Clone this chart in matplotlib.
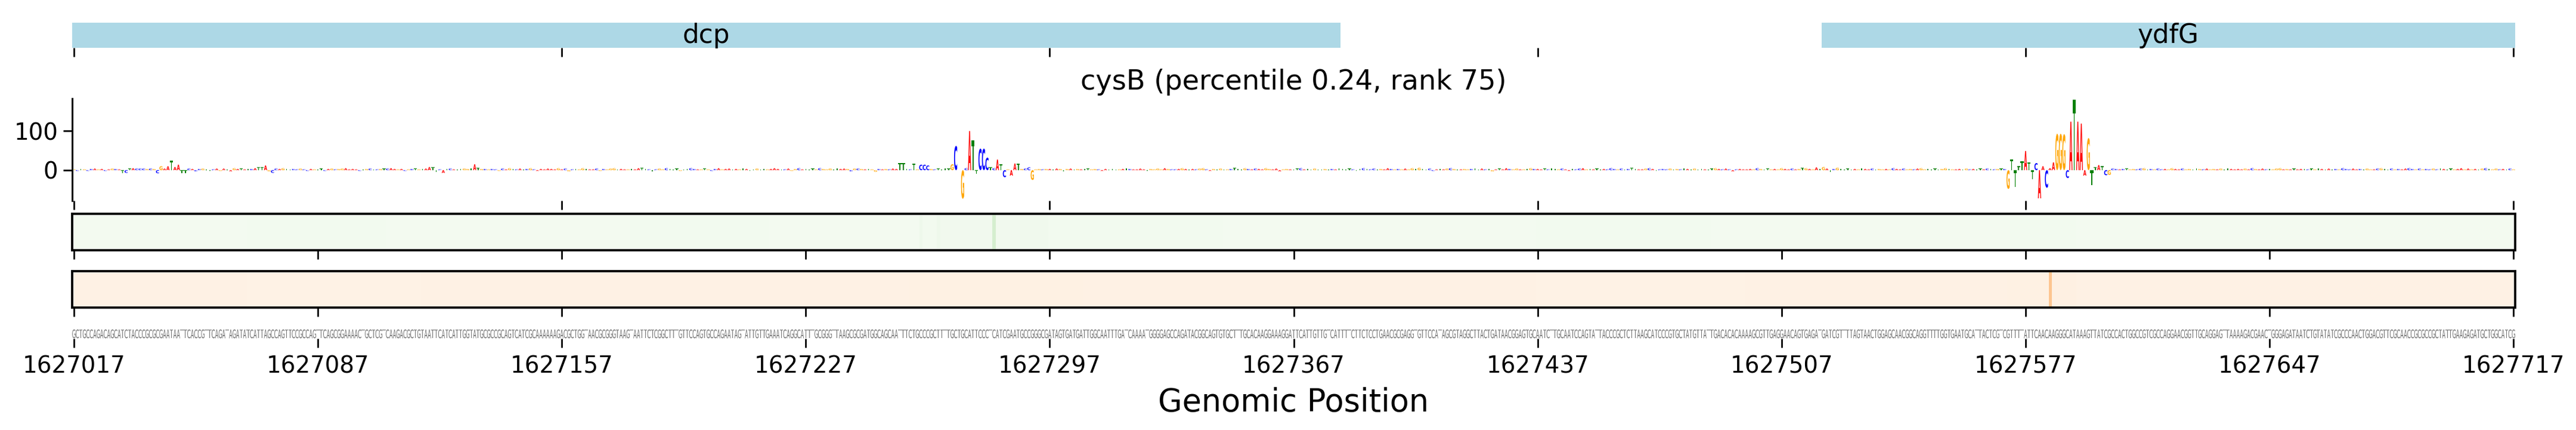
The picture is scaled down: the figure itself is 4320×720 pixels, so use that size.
import matplotlib
matplotlib.use('Agg')
import matplotlib.pyplot as plt
import numpy as np
from matplotlib.textpath import TextPath
from matplotlib.patches import PathPatch
from matplotlib.transforms import Affine2D
from matplotlib.font_manager import FontProperties

start = 1627017
tf_name = 'cysB'
percentile = 0.24
rank = 75

seq = ("GCTGCCAGACAGCATCTACCCGCGCGAATAATTCACCGTTCAGATAGATATCATTAGCCAGTTCCGCCAGTTCAGCGGAAAACTGCTCGTCAAGACGCTGTAATTCATCATTGGTATG"
       "CGCCGCAGTCATCGCAAAAAAGACGCTGGTAACGCGGGTAAGTAATTCTCGGCTTTGTTCCAGTGCCAGAATAGTATTGTTGAAATCAGGCATTTGCGGGTTAAGCGCGATGGCAGCA"
       "ATTTCTGCCCGCTTTTGCTGCATTCCCTCATCGAATGCCGGGCGATAGTGATGATTGGCAATTTGATCAAAATGGGGAGCCAGATACGGCAGTGTGCTTTGCACAAGGAAAGGATTCA"
       "TTGTTGTCATTTTCTTCTCCTGAACGCGAGGTGTTCCATAGCGTAGGCTTACTGATAACGGAGTGCAATCTTGCAATCCAGTATTACCCGCTCTTAAGCATCCCGTGCTATGTTATTG"
       "ACACACAAAAGCGTTGAGGAACAGTGAGATGATCGTTTTAGTAACTGGAGCAACGGCAGGTTTTGGTGAATGCATTACTCGTCGTTTTATTCAACAAGGGCATAAAGTTATCGCCACTG"
       "GCCGTCGCCAGGAACGGTTGCAGGAGTTAAAAGACGAACTGGGAGATAATCTGTATATCGCCCAACTGGACGTTCGCAACCGCGCCGCTATTGAAGAGATGCTGGCATCG")

# contribution score per position (one row = 20 positions)
scores = [
    2, -2, 3, 2, -2, 3, 4, 2, 3, -2, 2, 4, 3, 2, -8, -7, 4, 5, 4, 4,
    4, 3, 4, 3, -8, 10, 4, 10, 25, 8, 14, -7, -7, 4, 3, -3, 3, 4, 2, -2,
    2, 4, -2, 4, 2, -3, 5, 3, 4, 2, 3, 3, 5, 7, 7, 12, -3, -7, 4, 3,
    5, 3, 2, 3, 2, 4, 2, -2, 3, 2, 2, 4, -2, 3, 4, 2, 3, 4, 5, 2,
    3, 2, -2, 2, 3, 4, 2, 2, 3, 4, 4, 5, 3, 2, 3, -2, 2, 3, 4, 2,
    3, 4, 8, 8, -4, 2, -7, 3, 4, 2, 2, 3, 4, 3, 5, 15, 6, 3, 3, 2,
    3, 2, -2, 4, 2, 5, 3, 2, 4, 2, 3, 5, 2, -2, 3, 2, 4, 3, 2, 5,
    2, 4, -3, 2, 3, 2, 5, 3, 2, 2, 4, -2, 3, 2, 4, 5, 2, 3, 2, 2,
    3, 2, 5, 6, 3, 2, -3, 2, 4, 2, 5, 3, 2, 4, -2, 2, 3, 5, 3, 2,
    2, 4, 2, -2, 3, 5, 2, 3, 4, 2, 3, 2, 5, 3, -2, 2, 4, 2, 3, 2,
    3, 5, 3, 2, 2, 4, -2, 3, 5, 2, 3, 2, 4, 2, 5, 3, 2, 4, 2, 5,
    3, 4, 3, -3, 4, 4, 3, 2, 3, 2, -4, 3, 2, 3, 2, 4, 3, 18, 18, 3,
    2, 17, 2, 14, 14, 12, 3, 2, 4, 2, 5, 4, 15, 62, 0.5, -73, 5, 100, 76, -10,
    55, 55, 32, 7, 5, 27, 15, -18, 2, -14, 17, 16, 3, 4, 7, -25, 2, 3, 2, 3,
    3, 2, 4, 3, -3, 3, 4, 2, 3, 2, 3, 4, 2, 3, 2, -2, 3, 2, 3, 2,
    2, 3, 5, 3, 2, 2, 4, 2, -2, 3, 2, 4, 2, 5, 3, 2, 2, 3, 5, 3,
    2, 3, 2, 4, 5, 2, -2, 3, 2, 4, 2, 2, 3, 6, 3, 2, 5, 3, 2, 4,
    3, 2, 5, 3, 2, 4, -3, 2, 3, 2, 2, 4, 5, 2, 3, 2, 4, 2, 2, 3,
    2, 3, 2, 5, 3, 2, 4, 2, -2, 3, 5, 3, 2, 4, 2, 3, 2, 5, 3, 2,
    3, 2, 4, 2, 5, 3, 6, 3, 2, 4, -2, 2, 3, 2, 4, 5, 3, 2, 2, 3,
    2, 3, 5, 2, 4, 2, 3, -3, 2, 4, 2, 5, 3, 2, 4, 2, 2, 3, 5, 3,
    3, 2, 4, 2, 5, 3, 2, 4, 2, -2, 3, 2, 4, 5, 2, 3, 2, 4, 2, 3,
    2, 5, 3, 2, 4, 2, 3, 6, 3, 2, 2, 4, 5, 3, -2, 2, 3, 2, 4, 2,
    3, 2, 5, 3, 2, 4, 2, 3, 2, 2, 4, 5, 3, 2, 4, 2, -3, 2, 3, 2,
    2, 3, 2, 5, 3, 2, 4, 2, 3, 2, 5, 3, 2, 4, 2, 3, 6, 5, 3, 2,
    7, 3, 8, 4, -4, 3, 6, 3, 2, 4, 2, 3, 2, 5, 3, 2, 4, 2, 3, 2,
    3, 2, 5, 3, 2, 4, 2, 3, 2, 4, 5, 2, 3, 2, 4, 2, 3, 5, 3, 2,
    2, 3, 2, 4, 2, 3, 2, 4, 2, 4, 3, 2, 3, 4, 3, -48, 28, -43, 10, 23,
    49, 20, -23, 18, -72, 10, -45, 5, 20, 93, 93, 92, -20, 124, 180, 124, 119, -14, 82, -39,
    7, 13, 10, -13, -12, 4, 3, 2, 3, 4, 2, 3, 2, 4, 5, 2, 3, 2, 4, 2,
    3, 2, 5, 3, 2, 4, 2, 3, 2, 5, 3, 2, 4, 2, 3, 2, 4, 2, 5, 3,
    2, 3, 2, 4, 2, 5, 3, 2, 4, 2, 3, 2, 4, 5, 2, 3, 2, 4, 2, 3,
    3, 2, 4, 2, 5, 3, 2, 4, 2, 3, 2, 5, 3, 2, 4, 2, 3, 2, 4, 2,
    2, 4, 5, 3, 2, 4, 2, 3, 2, 4, 5, 3, 2, 4, 2, 3, 2, 4, 2, 5,
    3, 2, 4, 2, 3, 5, 2, 4, 2, 3, 2, 4, 5, 3, 2, 4, 2, 3, 2, 4,
    2,
]

gene_names = ['dcp', 'ydfG']
gene_starts = [1627017, 1627519]
gene_ends = [1627380, 1627717]

# (first position, last position + 1, value) runs of the two tracks
green_runs = [(0, 50, 0.03), (50, 90, 0.035), (90, 160, 0.03), (160, 200, 0.035),
              (200, 243, 0.03), (243, 244, 0.06), (244, 248, 0.035), (248, 249, 0.06),
              (249, 264, 0.04), (264, 265, 0.19), (265, 272, 0.04), (272, 280, 0.05),
              (280, 330, 0.035), (330, 420, 0.03), (420, 470, 0.035), (470, 556, 0.03),
              (556, 575, 0.035), (575, 701, 0.03)]
orange_runs = [(0, 50, 0.03), (50, 100, 0.027), (100, 240, 0.03), (240, 290, 0.034),
               (290, 420, 0.03), (420, 480, 0.027), (480, 555, 0.03), (555, 567, 0.034),
               (567, 568, 0.29), (568, 575, 0.038), (575, 701, 0.03)]

n = len(seq)
if len(scores) != n:
    raise ValueError("lengths %d %d" % (len(scores), n))

colors = {'A': 'red', 'C': 'blue', 'G': 'orange', 'T': 'green'}
fp_bold = FontProperties(family='DejaVu Sans', weight='bold')
fp_norm = FontProperties(family='DejaVu Sans')


def glyph(ch, fp):
    p = TextPath((0, 0), ch, size=1, prop=fp)
    return p, p.get_extents()


def letter(ax, ch, x, y0, h, w, color, fp):
    p, e = glyph(ch, fp)
    t = Affine2D().translate(-e.x0, -e.y0).scale(w / e.width, h / e.height).translate(x - w / 2, y0)
    ax.add_patch(PathPatch(t.transform_path(p), fc=color, ec='none', lw=0))


def runs_to_array(runs):
    a = np.zeros(n)
    for s, e, v in runs:
        a[s:e] = v
    return a


fig = plt.figure(figsize=(24, 4), dpi=180)
L, W = 0.028, 0.9484
xlim = (-0.5, n - 0.5)
major = np.arange(0, n, 70)
tick_kw = dict(length=6, width=1.1)

# gene track
axg = fig.add_axes([L, 0.8889, W, 0.0583])
for name, gs, ge in zip(gene_names, gene_starts, gene_ends):
    axg.barh(0.5, ge - gs + 1, left=gs - start - 0.5, height=1, color='lightblue')
    axg.text((gs + ge) / 2 - start, 0.5, name, ha='center', va='center', fontsize=17.5)
axg.set_xlim(xlim)
axg.set_ylim(0, 1)
for s in axg.spines.values():
    s.set_visible(False)
axg.set_yticks([])
axg.set_xticks(np.arange(0, n, 140))
axg.set_xticklabels([])
axg.tick_params(axis='x', **tick_kw)

# logo
axl = fig.add_axes([L, 0.5333, W, 0.2375])
for i, (ch, v) in enumerate(zip(seq, scores)):
    if v >= 0:
        letter(axl, ch, i, 0, v, 0.9, colors[ch], fp_bold)
    else:
        letter(axl, ch, i, v, -v, 0.9, colors[ch], fp_bold)
axl.set_xlim(xlim)
axl.set_ylim(-78, 183)
for k in ['top', 'right', 'bottom']:
    axl.spines[k].set_visible(False)
axl.spines['left'].set_linewidth(1.2)
axl.set_yticks([0, 100])
axl.set_xticks(np.arange(0, n, 140))
axl.set_xticklabels([])
axl.tick_params(**tick_kw, labelsize=15.5)
axl.set_title('%s (percentile %.2f, rank %d)' % (tf_name, percentile, rank), fontsize=18.5)

# heatmap tracks
for bottom, runs, cmap in [(0.4181, green_runs, 'Greens'), (0.2847, orange_runs, 'Oranges')]:
    axh = fig.add_axes([L, bottom, W, 0.0847])
    axh.imshow(runs_to_array(runs)[None, :], aspect='auto', cmap=cmap, vmin=0, vmax=1,
               extent=(-0.5, n - 0.5, 0, 1), interpolation='nearest')
    axh.set_xlim(xlim)
    axh.set_yticks([])
    axh.set_xticks(major)
    axh.set_xticklabels([])
    axh.tick_params(axis='x', **tick_kw)
    for s in axh.spines.values():
        s.set_linewidth(1.5)

# sequence
axs = fig.add_axes([L, 0.2125, W, 0.0375])
for i, ch in enumerate(seq):
    letter(axs, ch, i, 0.02, 0.55, 0.92, '#707070', fp_norm)
axs.set_xlim(xlim)
axs.set_ylim(0, 1)
for s in axs.spines.values():
    s.set_visible(False)
axs.set_yticks([])
axs.set_xticks(major)
axs.set_xticklabels([str(start + p) for p in major])
axs.tick_params(axis='x', **tick_kw, labelsize=15.5, pad=5)
axs.set_xlabel('Genomic Position', fontsize=21, labelpad=6)

fig.savefig('out.png', dpi=180)
